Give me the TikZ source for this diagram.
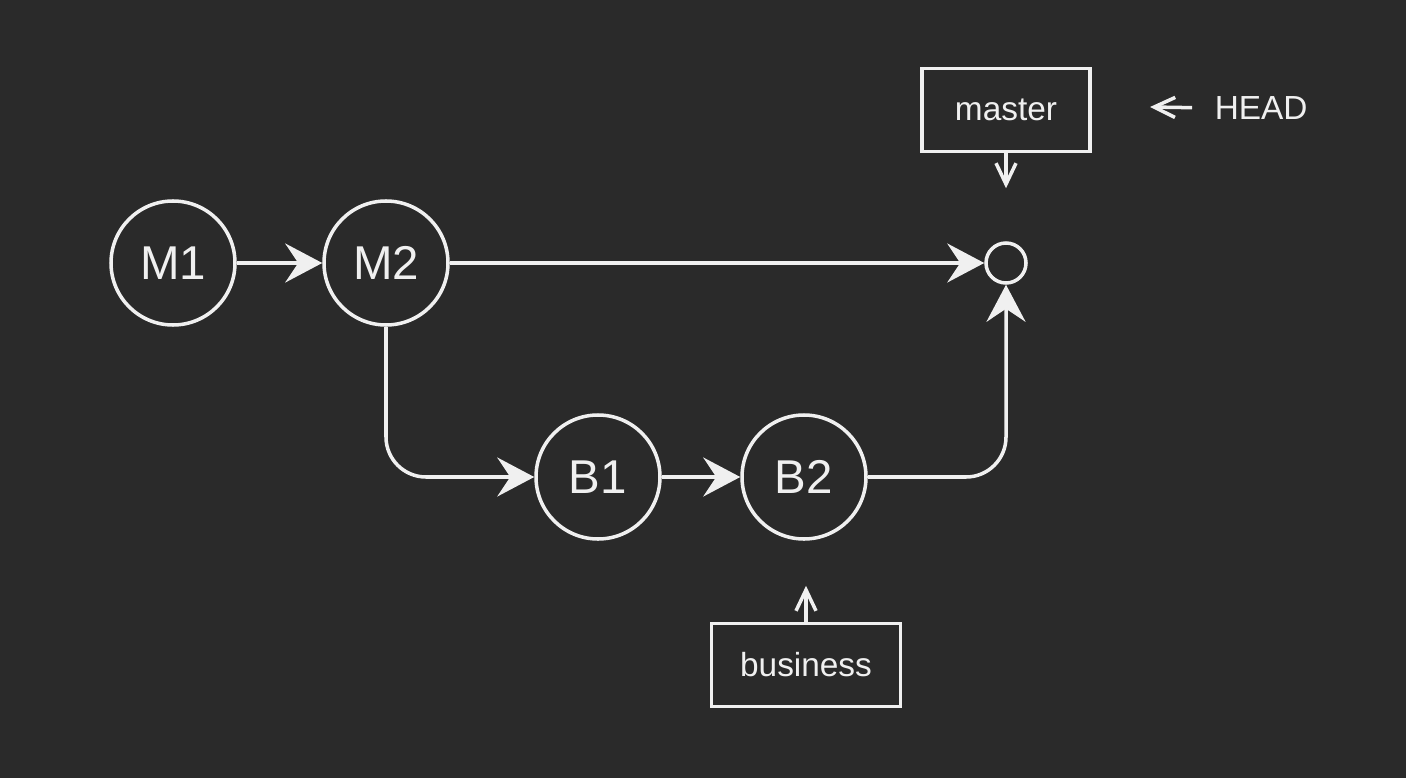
\documentclass[tikz,border=0pt]{standalone}
\usepackage{fontspec}
\setmainfont{Liberation Sans}
\usetikzlibrary{positioning,arrows.meta}
\definecolor{bg}{HTML}{2A2A2A}
\definecolor{fg}{HTML}{F0F0F0}

\begin{document}
\begin{tikzpicture}[on grid, line width=2pt, draw=fg, text=fg,
    commit/.style = {draw=fg, circle, minimum size=2.48cm, inner sep=0pt, font=\fontsize{27}{32}\selectfont},
    branch/.style = {draw=fg, rectangle, minimum height=1.66cm, inner sep=0pt, font=\fontsize{19}{23}\selectfont},
    flow/.style = {draw=fg, -{Stealth[length=0.74cm, width=0.78cm, inset=0.26cm]}},
    pointer/.style = {draw=fg, -{Straight Barb[length=0.42cm, width=0.4cm]}}]
            \fill[bg] (0,0) rectangle (28.12,-15.56);
            \node[commit] (m1) at (3.46,-5.26) {M1};
            \node[commit] (m2) [right=4.26cm of m1] {M2};
            \node[commit] (b1) [below right=4.28cm and 4.24cm of m2] {B1};
            \node[commit] (b2) [right=4.12cm of b1] {B2};
            \node[draw=fg, circle, minimum size=0.8cm, inner sep=0pt] (tip) [right=12.4cm of m2] {};
            \node[branch, minimum width=3.36cm] (master) [above=3.06cm of tip] {\raisebox{-0.06cm}{master}};
            \node[branch, minimum width=3.78cm] (business) [below=3.76cm of b2, xshift=0.04cm] {\raisebox{-0.04cm}{business}};
            \node[inner sep=0pt, anchor=west, font=\fontsize{19}{23}\selectfont] (head) at (24.26,-2.16) {HEAD};
            \coordinate (headtip) at (23.0,-2.14);
            \path[flow]
            (m1) edge (m2)
            (m2) edge (tip)
            (b1) edge (b2);
            \draw[flow, rounded corners=0.8cm] (m2.south) |- (b1.west);
            \draw[flow, rounded corners=0.8cm] (b2.east) -| (tip.south);
            \draw[pointer, shorten >=1.06cm] (master.south) -- (tip.north);
            \draw[pointer, shorten >=0.9cm] (business.north) -- (business.north |- b2.south);
            \draw[pointer, shorten <=0.42cm] (head.west) -- (headtip);
        \end{tikzpicture}
\end{document}
